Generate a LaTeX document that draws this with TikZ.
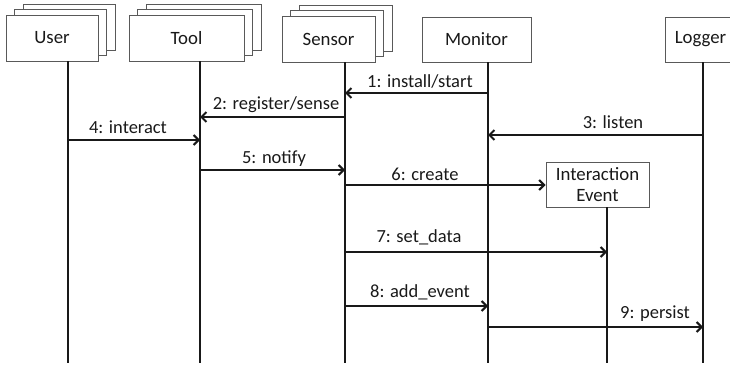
\documentclass[tikz,border=0pt]{standalone}
\usepackage{fontspec}
\setmainfont{Carlito}
\usetikzlibrary{arrows.meta}
\begin{document}
\begin{tikzpicture}[x=1pt,y=-1pt,
  objbox/.style={draw=black!65, line width=0.9pt, fill=white, inner sep=0pt,
    text=black!90, font=\fontsize{18.8}{21}\selectfont},
  life/.style={draw=black!90, line width=2pt},
  msg/.style={draw=black!90, line width=2.3pt,
    -{Straight Barb[length=5pt,width=10pt,line width=2pt]}},
  lbl/.style={font=\fontsize{18.5}{21}\selectfont, anchor=base, inner sep=0pt, text=black!90}]
\useasboundingbox (0,0) rectangle (730,364);
\clip (0,0) rectangle (730,364);

% User stack
\node[objbox, minimum width=92pt, minimum height=46pt] (user3) at (69,27) {};
\node[objbox, minimum width=92pt, minimum height=46pt] (user2) at (60.5,32.5) {};
\node[objbox, minimum width=92pt, minimum height=46pt] (user) at (52,38) {User};
% Tool stack
\node[objbox, minimum width=115pt, minimum height=46pt] (tool3) at (203.5,27) {};
\node[objbox, minimum width=115pt, minimum height=46pt] (tool2) at (195,32.5) {};
\node[objbox, minimum width=115pt, minimum height=46pt] (tool) at (186.5,38) {Tool};
% Sensor stack
\node[objbox, minimum width=93pt, minimum height=46pt] (sens3) at (345.5,28) {};
\node[objbox, minimum width=93pt, minimum height=46pt] (sens2) at (337,33.5) {};
\node[objbox, minimum width=93pt, minimum height=46pt] (sens) at (328.5,39) {Sensor};
% Monitor, Logger
\node[objbox, minimum width=109pt, minimum height=45pt] (mon) at (476.5,39.5) {Monitor};
\node[objbox, minimum width=71pt, minimum height=45pt] (log) at (700.5,39.5) {Logger};
% Interaction Event
\node[objbox, minimum width=103pt, minimum height=45pt, align=center] (ie) at (597.5,184.5) {Interaction\\Event};

% lifeline ends
\coordinate (userEnd) at (68,363);
\coordinate (toolEnd) at (200,363);
\coordinate (sensEnd) at (345,363);
\coordinate (monEnd) at (488,363);
\coordinate (logEnd) at (703,363);
\coordinate (ieEnd) at (607,363);

\draw[life] (user.south -| userEnd) -- (userEnd);
\draw[life] (tool.south -| toolEnd) -- (toolEnd);
\draw[life] (sens.south -| sensEnd) -- (sensEnd);
\draw[life] (mon.south -| monEnd) -- (monEnd);
\draw[life] (log.south -| logEnd) -- (logEnd);
\draw[life] (ie.south -| ieEnd) -- (ieEnd);

% messages
\draw[msg] (monEnd |- 0,93) -- (sensEnd |- 0,93);
\node[lbl] (l1) at (420,87) {1: install/start};
\draw[msg] (sensEnd |- 0,117) -- (toolEnd |- 0,117);
\node[lbl] (l2) at (276,109) {2: register/sense};
\draw[msg] (logEnd |- 0,135) -- (monEnd |- 0,135);
\node[lbl] (l3) at (613,128) {3: listen};
\draw[msg] (userEnd |- 0,140) -- (toolEnd |- 0,140);
\node[lbl] (l4) at (128,133) {4: interact};
\draw[msg] (toolEnd |- 0,170) -- (sensEnd |- 0,170);
\node[lbl] (l5) at (274,163) {5: notify};
\draw[msg] (sensEnd |- 0,185) -- (ie.west |- 0,185);
\node[lbl] (l6) at (425,180) {6: create};
\draw[msg] (sensEnd |- 0,252) -- (ieEnd |- 0,252);
\node[lbl] (l7) at (419,242) {7: set\_data};
\draw[msg] (sensEnd |- 0,306) -- (monEnd |- 0,306);
\node[lbl] (l8) at (420,297) {8: add\_event};
\draw[msg] (monEnd |- 0,327) -- (logEnd |- 0,327);
\node[lbl] (l9) at (655,318) {9: persist};
\end{tikzpicture}
\end{document}
